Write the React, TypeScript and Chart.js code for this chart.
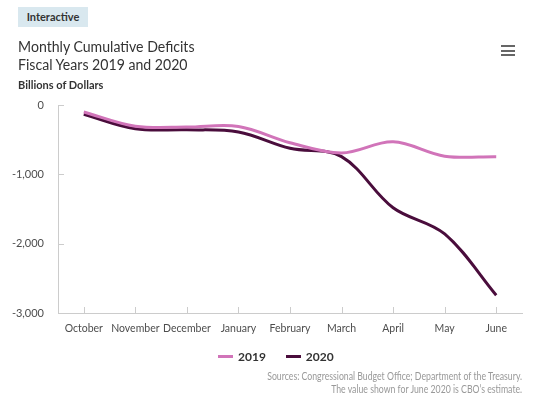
import React, { useEffect, useRef } from "react";
import { Chart, registerables } from "chart.js";

Chart.register(...registerables);

const months = ["October", "November", "December", "January", "February", "March", "April", "May", "June"];
const deficits2019 = [-100, -305, -319, -310, -544, -691, -531, -738, -747];
const deficits2020 = [-134, -343, -357, -389, -625, -744, -1482, -1860, -2744];
const yTicks = [0, -1000, -2000, -3000];

const FONT = "Lato, 'Open Sans', sans-serif";
const AXIS_COLOR = "#cccccc";

const innerTicks = {
  id: "innerTicks",
  afterDraw(chart: any) {
    const ctx = chart.ctx;
    const x = chart.scales.x;
    const y = chart.scales.y;
    ctx.save();
    ctx.strokeStyle = AXIS_COLOR;
    ctx.lineWidth = 1;
    ctx.beginPath();
    for (let i = 0; i < months.length; i++) {
      const px = Math.round(x.getPixelForValue(i)) + 0.5;
      ctx.moveTo(px, y.bottom);
      ctx.lineTo(px, y.bottom - 6);
    }
    for (const v of yTicks) {
      const py = Math.round(y.getPixelForValue(v)) + 0.5;
      ctx.moveTo(x.left, py);
      ctx.lineTo(x.left + 6, py);
    }
    ctx.stroke();
    ctx.restore();
  },
};

function ChartCanvas() {
  const ref = useRef<HTMLCanvasElement>(null);
  useEffect(() => {
    if (!ref.current) return;
    const chart = new Chart(ref.current, {
      type: "line",
      data: {
        labels: months,
        datasets: [
          {
            label: "2019",
            data: deficits2019,
            borderColor: "#d174b9",
            borderWidth: 3,
            pointRadius: 0,
            tension: 0.35,
            fill: false,
          },
          {
            label: "2020",
            data: deficits2020,
            borderColor: "#4a0d3c",
            borderWidth: 3,
            pointRadius: 0,
            tension: 0.35,
            fill: false,
          },
        ],
      },
      options: {
        animation: false,
        responsive: false,
        maintainAspectRatio: false,
        layout: { padding: { left: 0, top: 105, right: 28, bottom: 53 } },
        plugins: {
          legend: { display: false },
          tooltip: { enabled: false },
        },
        scales: {
          x: {
            offset: true,
            grid: { display: false, drawTicks: false },
            border: { display: true, color: AXIS_COLOR, width: 1 },
            ticks: {
              color: "#4d4d4d",
              font: { family: FONT, size: 10.5, weight: "normal" },
              padding: 9,
              maxRotation: 0,
              autoSkip: false,
            },
            afterFit: (s: any) => {
              s.height = 30;
            },
          },
          y: {
            min: -3000,
            max: 0,
            grid: { display: false, drawTicks: false },
            border: { display: true, color: AXIS_COLOR, width: 1 },
            afterBuildTicks: (s: any) => {
              s.ticks = yTicks.map((v) => ({ value: v }));
            },
            ticks: {
              color: "#4d4d4d",
              font: { family: FONT, size: 11, weight: "normal" },
              padding: 14,
              callback: (v: any) => Number(v).toLocaleString("en-US"),
            },
            afterFit: (s: any) => {
              s.width = 58;
            },
          },
        },
      },
      plugins: [innerTicks],
    });
    return () => chart.destroy();
  }, []);
  return <canvas ref={ref} width={550} height={396} style={{ position: "absolute", left: 0, top: 0 }} />;
}

export default function App() {
  useEffect(() => {
    document.body.style.margin = "0";
  }, []);
  const text: React.CSSProperties = { position: "absolute", fontFamily: FONT, whiteSpace: "nowrap", margin: 0 };
  return (
    <div style={{ position: "relative", width: 550, height: 396, background: "#fff", overflow: "hidden" }}>
      <ChartCanvas />
      <div
        style={{
          ...text,
          left: 18,
          top: 7,
          width: 70,
          height: 20,
          lineHeight: "20px",
          background: "#d9e8ef",
          color: "#333",
          fontSize: 11,
          fontWeight: "bold",
          textAlign: "center",
        }}
      >
        Interactive
      </div>
      <div
        style={{
          ...text,
          left: 18,
          top: 37,
          fontSize: 15.5,
          lineHeight: "18px",
          color: "#333",
          transform: "scaleX(0.91)",
          transformOrigin: "left top",
        }}
      >
        Monthly Cumulative Deficits
        <br />
        Fiscal Years 2019 and 2020
      </div>
      <div style={{ ...text, left: 18, top: 78, fontSize: 11, fontWeight: "bold", color: "#333" }}>Billions of Dollars</div>
      {[0, 1, 2].map((i) => (
        <div key={i} style={{ position: "absolute", left: 501, top: 45 + i * 4.5, width: 14, height: 2, background: "#666" }} />
      ))}
      <div style={{ position: "absolute", left: 218, top: 349, display: "flex", alignItems: "center", fontFamily: FONT, fontSize: 12, fontWeight: "bold", color: "#333" }}>
        <span style={{ display: "inline-block", width: 15, height: 3, background: "#d174b9", marginRight: 5 }} />
        <span>2019</span>
        <span style={{ display: "inline-block", width: 15, height: 3, background: "#4a0d3c", marginLeft: 20, marginRight: 5 }} />
        <span>2020</span>
      </div>
      <div
        style={{
          ...text,
          right: 28,
          top: 370,
          fontSize: 10.5,
          lineHeight: "13px",
          color: "#999",
          textAlign: "right",
          transform: "scaleX(0.83)",
          transformOrigin: "right top",
        }}
      >
        Sources: Congressional Budget Office; Department of the Treasury.
        <br />
        The value shown for June 2020 is CBO’s estimate.
      </div>
    </div>
  );
}
